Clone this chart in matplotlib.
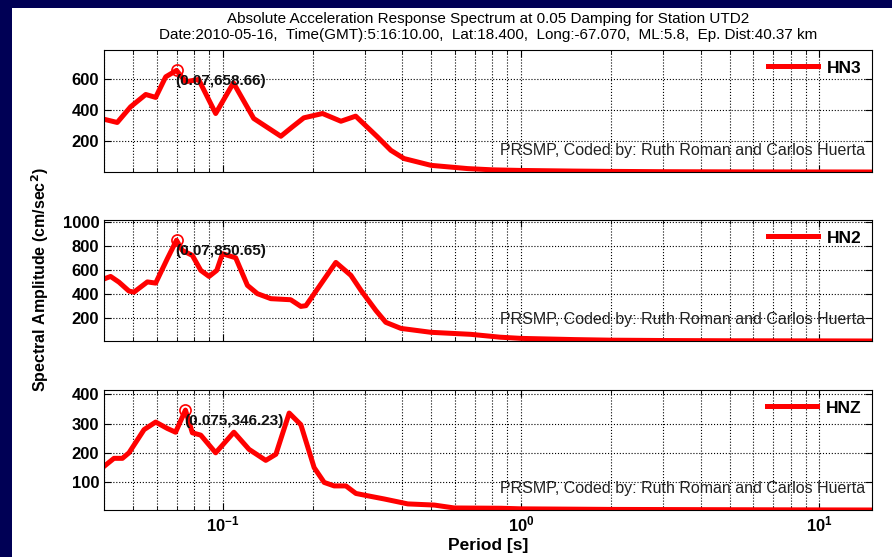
import matplotlib
matplotlib.use("Agg")
import matplotlib.pyplot as plt
from matplotlib.patches import Rectangle
from matplotlib.ticker import LogLocator, NullFormatter, FixedLocator

plt.rcParams['font.family'] = ['Liberation Sans', 'DejaVu Sans']

# periods (s) and spectral amplitudes (cm/sec^2)
t_hn3 = [0.040, 0.0443, 0.0491, 0.0552, 0.0596, 0.0644, 0.070, 0.0751, 0.083,
         0.0947, 0.1086, 0.127, 0.1566, 0.171, 0.187, 0.216, 0.249, 0.279,
         0.330, 0.366, 0.405, 0.499, 0.662, 0.80, 1.0, 1.5, 2.0, 3.0, 5.0,
         8.0, 15.0]
a_hn3 = [343, 322, 423, 503, 484, 617, 658.66, 585, 600,
         380, 578, 348, 233, 293, 352, 380, 330, 363,
         229, 142, 89, 45, 24, 16, 12, 8, 6, 4, 3,
         2.5, 2]

t_hn2 = [0.0402, 0.0421, 0.0449, 0.0485, 0.0504, 0.0559, 0.0596, 0.0652, 0.070,
         0.0732, 0.0791, 0.0844, 0.090, 0.0955, 0.0998, 0.1105, 0.121, 0.1307,
         0.145, 0.169, 0.1827, 0.190, 0.2394, 0.2689, 0.2904, 0.326, 0.352,
         0.3955, 0.499, 0.679, 0.85, 1.0, 1.5, 2.0, 3.0, 5.0, 10.0, 15.0]
a_hn2 = [527, 546, 498, 423, 414, 500, 490, 695, 850.65,
         765, 723, 597, 546, 597, 737, 703, 471, 401,
         359, 350, 294, 300, 664, 555, 430, 260, 160,
         109, 76, 59, 35, 25, 15, 10, 7, 5, 4, 3]

t_hnz = [0.0402, 0.0432, 0.0461, 0.0485, 0.0545, 0.0596, 0.0652, 0.0695, 0.075,
         0.0791, 0.0844, 0.0947, 0.109, 0.1225, 0.1394, 0.1507, 0.167, 0.1827,
         0.2025, 0.2188, 0.2363, 0.2587, 0.2795, 0.306, 0.3477, 0.417, 0.512,
         0.597, 0.857, 1.0, 2.0, 5.0, 15.0]
a_hnz = [154, 180, 180, 199, 279, 305, 283, 270, 346.23,
         268, 260, 199, 270, 211, 173, 194, 336, 296,
         148, 97, 85, 85, 59, 51, 40, 23, 19,
         9, 8, 6, 4, 3, 2]

channels = ['HN3', 'HN2', 'HNZ']
periods = [t_hn3, t_hn2, t_hnz]
amps = [a_hn3, a_hn2, a_hnz]
yticks = [[200, 400, 600], [200, 400, 600, 800, 1000], [100, 200, 300, 400]]

W, H = 892, 557
fig = plt.figure(figsize=(W / 100, H / 100), dpi=100)
fig.patch.set_facecolor('white')

# navy strips along the top and left edges
navy = '#000055'
fig.patches.append(Rectangle((0, 1 - 8 / H), 1, 8 / H, transform=fig.transFigure,
                             facecolor=navy, edgecolor='none', zorder=0))
fig.patches.append(Rectangle((0, 0), 12 / W, 1, transform=fig.transFigure,
                             facecolor=navy, edgecolor='none', zorder=0))

# axes boxes in pixels: (top, bottom)
boxes = [(50, 172), (220, 341), (390, 510)]
left, right = 104, 872

axes = []
for i, (top, bot) in enumerate(boxes):
    ax = fig.add_axes([left / W, 1 - bot / H, (right - left) / W, (bot - top) / H])
    axes.append(ax)
    t, a = periods[i], amps[i]
    ax.plot(t, a, color='red', lw=3.6, label=channels[i], solid_joinstyle='round')
    ax.set_xscale('log')
    ax.set_xlim(0.04, 15)
    ax.set_ylim(min(a), 1.2 * max(a))
    ax.yaxis.set_major_locator(FixedLocator(yticks[i]))

    k = a.index(max(a))
    ax.plot(t[k], a[k], 'o', ms=8, mfc='none', mec='red', mew=1.2)
    ax.annotate('(%g,%.2f)' % (t[k], a[k]), (t[k], a[k]), xytext=(-1, -11),
                textcoords='offset pixels', ha='left', va='center',
                fontsize=11, fontweight='bold', color='#111111')

    ax.text(0.991, 0.175, 'PRSMP, Coded by: Ruth Roman and Carlos Huerta',
            transform=ax.transAxes, ha='right', va='center', fontsize=11.5,
            color='#222222')

    ax.xaxis.set_major_locator(LogLocator(base=10, numticks=10))
    ax.xaxis.set_minor_locator(LogLocator(base=10, subs=range(2, 10), numticks=20))
    ax.xaxis.set_minor_formatter(NullFormatter())
    ax.grid(True, which='major', axis='both', ls=':', color='black', lw=0.8)
    ax.grid(True, which='minor', axis='x', ls=':', color='black', lw=0.8)
    ax.tick_params(which='both', direction='in', top=True, right=True)
    ax.tick_params(which='major', length=5, labelsize=12)
    ax.tick_params(which='minor', length=3)
    for lab in ax.get_yticklabels():
        lab.set_fontweight('bold')
    if i < 2:
        ax.set_xticklabels([])
    else:
        for lab in ax.get_xticklabels():
            lab.set_fontweight('bold')

    ax.legend(loc='upper right', frameon=False, handlelength=2.9,
              handletextpad=0.5, prop={'weight': 'bold', 'size': 12.5},
              borderaxespad=0.2)

axes[2].set_xlabel('Period [s]', fontsize=12.5, fontweight='bold', labelpad=2)
fig.text(40 / W, 1 - 280 / H, 'Spectral Amplitude (cm/sec$^{\\mathbf{2}}$)',
         rotation=90, ha='center', va='center', fontsize=11.5, fontweight='bold')

fig.text(488 / W, 1 - 19 / H,
         'Absolute Acceleration Response Spectrum at 0.05 Damping for Station UTD2',
         ha='center', va='center', fontsize=11)
fig.text(488 / W, 1 - 35 / H,
         'Date:2010-05-16,  Time(GMT):5:16:10.00,  Lat:18.400,  Long:-67.070,  '
         'ML:5.8,  Ep. Dist:40.37 km',
         ha='center', va='center', fontsize=11)

fig.savefig('out.png', dpi=100)
